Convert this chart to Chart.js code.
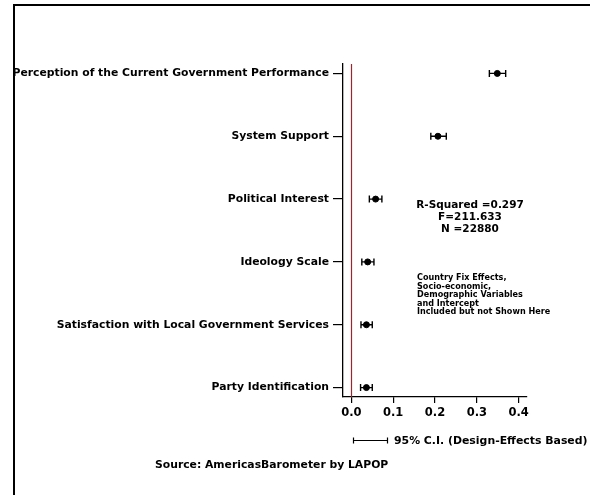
<!DOCTYPE html>
<html>
<head>
<meta charset="utf-8">
<script src="https://cdn.jsdelivr.net/npm/chart.js@4.4.1/dist/chart.umd.min.js"></script>
<style>
  html, body { margin: 0; padding: 0; background: #fff; }
  #wrap { width: 590px; height: 495px; }
</style>
</head>
<body>
<div id="wrap"><canvas id="coefChart" width="590" height="495"></canvas></div>
<script>
// predictors, top to bottom
var labels = [
    "Perception of the Current Government Performance",
    "System Support",
    "Political Interest",
    "Ideology Scale",
    "Satisfaction with Local Government Services",
    "Party Identification"
];
// standardized coefficients and 95% C.I. bounds
var coef = [0.349, 0.207, 0.058, 0.039, 0.036, 0.036];
var ciLow = [0.330, 0.190, 0.043, 0.025, 0.023, 0.022];
var ciHigh = [0.369, 0.227, 0.073, 0.054, 0.050, 0.050];
var xTicks = [0.0, 0.1, 0.2, 0.3, 0.4];

var statLines = ["R-Squared =0.297", "F=211.633", "N =22880"];
var noteLines = ["Country Fix Effects,", "Socio-economic,", "Demographic Variables", "and Intercept", "Included but not Shown Here"];
var legendText = "95% C.I. (Design-Effects Based)";
var sourceText = "Source: AmericasBarometer by LAPOP";

var FONT = "'DejaVu Sans', Verdana, sans-serif";

// error bars, zero line, notes, legend and frame
var extrasPlugin = {
    id: "extras",
    beforeDatasetsDraw: function (chart) {
        var ctx = chart.ctx;
        var xs = chart.scales.x, ys = chart.scales.y;
        var a = chart.chartArea;
        ctx.save();
        // line at zero
        ctx.strokeStyle = "#9a2632";
        ctx.lineWidth = 1.2;
        var x0 = Math.round(xs.getPixelForValue(0)) + 0.5;
        ctx.beginPath();
        ctx.moveTo(x0, a.top);
        ctx.lineTo(x0, a.bottom);
        ctx.stroke();
        // confidence intervals
        ctx.strokeStyle = "#000";
        ctx.lineWidth = 1.4;
        for (var i = 0; i < coef.length; i++) {
            var y = ys.getPixelForValue(i);
            var xl = xs.getPixelForValue(ciLow[i]);
            var xh = xs.getPixelForValue(ciHigh[i]);
            ctx.beginPath();
            ctx.moveTo(xl, y);
            ctx.lineTo(xh, y);
            ctx.moveTo(xl, y - 3.5);
            ctx.lineTo(xl, y + 3.5);
            ctx.moveTo(xh, y - 3.5);
            ctx.lineTo(xh, y + 3.5);
            ctx.stroke();
        }
        ctx.restore();
    },
    afterDraw: function (chart) {
        var ctx = chart.ctx;
        ctx.save();
        ctx.fillStyle = "#000";
        ctx.textBaseline = "middle";

        ctx.font = "bold 10.5px " + FONT;
        ctx.textAlign = "center";
        statLines.forEach(function (t, i) {
            ctx.fillText(t, 470, 205.5 + i * 11.8);
        });

        ctx.font = "bold 8.1px " + FONT;
        ctx.textAlign = "left";
        noteLines.forEach(function (t, i) {
            ctx.fillText(t, 417, 278 + i * 8.5);
        });

        // legend
        ctx.strokeStyle = "#000";
        ctx.lineWidth = 1.2;
        ctx.beginPath();
        ctx.moveTo(353, 440.5);
        ctx.lineTo(388, 440.5);
        ctx.moveTo(353.5, 437.5);
        ctx.lineTo(353.5, 443.5);
        ctx.moveTo(387.5, 437.5);
        ctx.lineTo(387.5, 443.5);
        ctx.stroke();
        ctx.font = "bold 10.9px " + FONT;
        ctx.fillText(legendText, 394, 441);

        ctx.font = "bold 10.8px " + FONT;
        ctx.fillText(sourceText, 155, 465);

        // frame
        ctx.lineWidth = 2;
        ctx.beginPath();
        ctx.moveTo(14, 495);
        ctx.lineTo(14, 5);
        ctx.lineTo(590, 5);
        ctx.stroke();
        ctx.restore();
    }
};

new Chart(document.getElementById("coefChart").getContext("2d"), {
    type: "scatter",
    data: {
        datasets: [{
            data: coef.map(function (v, i) { return { x: v, y: i }; }),
            backgroundColor: "#000",
            borderColor: "#000",
            pointRadius: 3,
            pointHoverRadius: 3
        }]
    },
    options: {
        responsive: false,
        animation: false,
        devicePixelRatio: 1,
        layout: { padding: { top: 64, right: 63, bottom: 0, left: 0 } },
        plugins: { legend: { display: false }, tooltip: { enabled: false } },
        scales: {
            x: {
                type: "linear",
                min: -0.02,
                max: 0.42,
                afterBuildTicks: function (scale) {
                    scale.ticks = xTicks.map(function (v) { return { value: v }; });
                },
                afterFit: function (scale) { scale.height = 98; },
                grid: { drawOnChartArea: false, drawTicks: true, tickLength: 6, color: "#000", lineWidth: 1.2 },
                border: { color: "#000", width: 1.3 },
                ticks: {
                    color: "#000",
                    padding: 3,
                    maxRotation: 0,
                    autoSkip: false,
                    font: { family: FONT, size: 11.5, weight: "bold" },
                    callback: function (v) { return v.toFixed(1); }
                }
            },
            y: {
                type: "linear",
                min: -0.15,
                max: 5.15,
                reverse: true,
                afterBuildTicks: function (scale) {
                    scale.ticks = labels.map(function (_, i) { return { value: i }; });
                },
                afterFit: function (scale) { scale.width = 343; },
                grid: { drawOnChartArea: false, drawTicks: true, tickLength: 10, color: "#000", lineWidth: 1.2 },
                border: { color: "#000", width: 1.3 },
                ticks: {
                    color: "#000",
                    padding: 4,
                    autoSkip: false,
                    font: { family: FONT, size: 10.8, weight: "bold" },
                    callback: function (v) { return labels[v]; }
                }
            }
        }
    },
    plugins: [extrasPlugin]
});
</script>
</body>
</html>
